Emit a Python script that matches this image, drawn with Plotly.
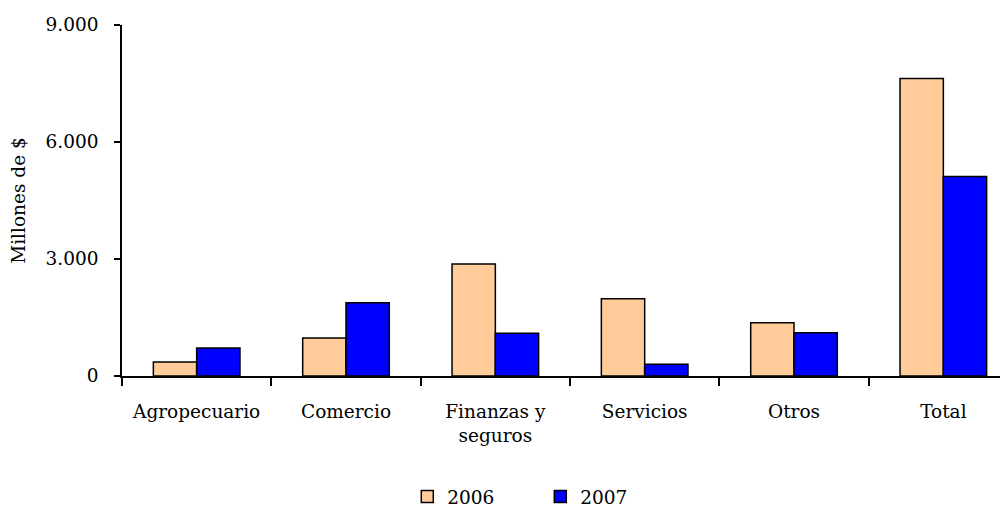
import plotly.graph_objects as go

categories = ["Agropecuario", "Comercio", "Finanzas y<br>seguros", "Servicios", "Otros", "Total"]
values_2006 = [360, 977, 2872, 1980, 1363, 7629]
values_2007 = [720, 1877, 1098, 301, 1106, 5117]
y_tickvals = [0, 3000, 6000, 9000]
y_ticktext = ["0", "3.000", "6.000", "9.000"]

FONT = "DejaVu Serif"
FS = 18.5

fig = go.Figure()
fig.add_trace(go.Bar(name="2006", x=categories, y=values_2006,
                     marker=dict(color="#FFCC99", line=dict(color="black", width=1.5))))
fig.add_trace(go.Bar(name="2007", x=categories, y=values_2007,
                     marker=dict(color="#0000FF", line=dict(color="black", width=1.5))))

fig.update_layout(
    width=1000, height=500,
    margin=dict(l=114, r=0, t=17, b=132, autoexpand=False),
    plot_bgcolor="white", paper_bgcolor="white",
    barmode="group", bargap=0.42, bargroupgap=0,
    font=dict(family=FONT, size=FS, color="black"),
    showlegend=True,
    legend=dict(orientation="h", x=0.322, xanchor="left", y=-0.345, yanchor="middle",
                font=dict(family=FONT, size=FS), itemwidth=30, entrywidth=88,
                bgcolor="rgba(0,0,0,0)"),
    xaxis=dict(range=[-0.5, 5.433], showline=True, linecolor="black", linewidth=1.5,
               ticks="outside", ticklen=8, tickcolor="black", tickwidth=1.5,
               tickson="boundaries", showgrid=False, zeroline=False, automargin=False,
               ticklabelstandoff=18,
               tickfont=dict(family=FONT, size=FS)),
    yaxis=dict(range=[0, 9000], tickvals=y_tickvals, ticktext=y_ticktext,
               showline=True, linecolor="black", linewidth=1.5,
               ticks="outside", ticklen=6, tickcolor="black", tickwidth=1.5,
               showgrid=False, zeroline=False, automargin=False,
               ticklabelstandoff=12,
               tickfont=dict(family=FONT, size=FS),
               title=dict(text="Millones de $", font=dict(family=FONT, size=FS), standoff=26)),
)

fig.write_html("out.html")
